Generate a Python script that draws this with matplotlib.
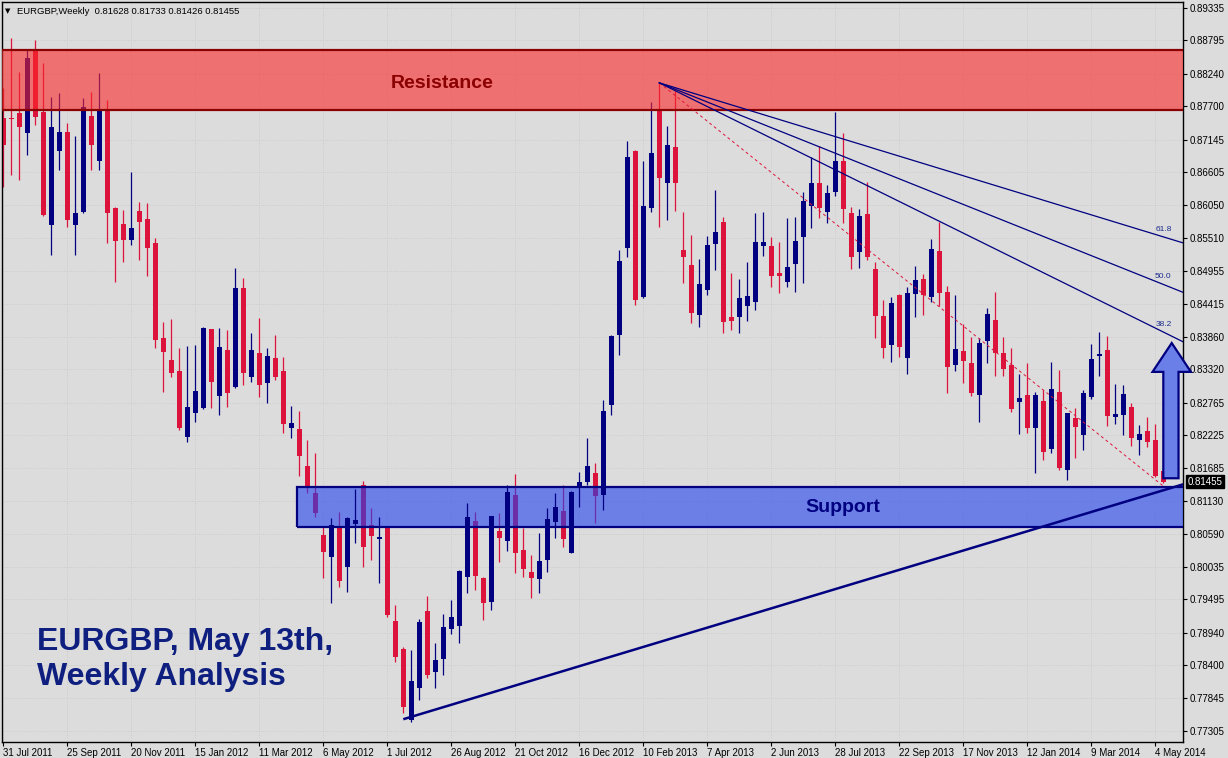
import matplotlib
matplotlib.use("Agg")
import matplotlib.pyplot as plt
from matplotlib.patches import Rectangle, Polygon
import numpy as np

# weekly EURGBP candles, 31 Jul 2011 .. 11 May 2014
opens = [0.8751, 0.8750, 0.8759, 0.8726, 0.8864, 0.8760, 0.8572, 0.8696, 0.8727, 0.8572,
         0.8594, 0.8754, 0.8679, 0.8765, 0.8601, 0.8574, 0.8548, 0.8596, 0.8582, 0.8543,
         0.8384, 0.8348, 0.8330, 0.8220, 0.8260, 0.8268, 0.8399, 0.8288, 0.8364, 0.8303,
         0.8468, 0.8320, 0.8359, 0.8310, 0.8351, 0.8330, 0.8235, 0.8233, 0.8171, 0.8127,
         0.8057, 0.8020, 0.8068, 0.8003, 0.8075, 0.8140, 0.8073, 0.8050, 0.8068, 0.7914,
         0.7867, 0.7749, 0.7802, 0.7930, 0.7829, 0.7850, 0.7900, 0.7905, 0.7987, 0.8080,
         0.7985, 0.7945, 0.8063, 0.8047, 0.8123, 0.8032, 0.7995, 0.7983, 0.8015, 0.8078,
         0.8097, 0.8027, 0.8136, 0.8145, 0.8160, 0.8123, 0.8273, 0.8389, 0.8534, 0.8696,
         0.8453, 0.8601, 0.8764, 0.8642, 0.8702, 0.8531, 0.8506, 0.8423, 0.8464, 0.8541,
         0.8577, 0.8419, 0.8419, 0.8438, 0.8444, 0.8538, 0.8538, 0.8493, 0.8478, 0.8508,
         0.8552, 0.8604, 0.8642, 0.8594, 0.8627, 0.8679, 0.8592, 0.8528, 0.8591, 0.8499,
         0.8421, 0.8373, 0.8456, 0.8351, 0.8458, 0.8483, 0.8453, 0.8529, 0.8461, 0.8339,
         0.8363, 0.8343, 0.8290, 0.8379, 0.8414, 0.8359, 0.8339, 0.8278, 0.8290, 0.8235,
         0.8280, 0.8200, 0.8295, 0.8165, 0.8251, 0.8223, 0.8286, 0.8354, 0.8364, 0.8253,
         0.8256, 0.8270, 0.8215, 0.8230, 0.8215, 0.81628]
highs = [0.8800, 0.8884, 0.8827, 0.8864, 0.8880, 0.8842, 0.8785, 0.8792, 0.8742, 0.8721,
         0.8784, 0.8794, 0.8825, 0.8780, 0.8602, 0.8597, 0.8661, 0.8611, 0.8609, 0.8551,
         0.8411, 0.8416, 0.8368, 0.8371, 0.8373, 0.8403, 0.8400, 0.8401, 0.8398, 0.8501,
         0.8484, 0.8393, 0.8418, 0.8368, 0.8389, 0.8353, 0.8271, 0.8263, 0.8215, 0.8193,
         0.8070, 0.8085, 0.8095, 0.8086, 0.8133, 0.8146, 0.8102, 0.8087, 0.8069, 0.7940,
         0.7870, 0.7865, 0.7917, 0.7955, 0.7877, 0.7925, 0.7948, 0.7998, 0.8110, 0.8095,
         0.7987, 0.8089, 0.8093, 0.8140, 0.8158, 0.8068, 0.8023, 0.8060, 0.8102, 0.8127,
         0.8140, 0.8129, 0.8161, 0.8218, 0.8176, 0.8281, 0.8389, 0.8531, 0.8712, 0.8697,
         0.8679, 0.8777, 0.8809, 0.8737, 0.8800, 0.8594, 0.8556, 0.8516, 0.8554, 0.8631,
         0.8586, 0.8493, 0.8483, 0.8511, 0.8592, 0.8594, 0.8552, 0.8544, 0.8584, 0.8586,
         0.8627, 0.8686, 0.8704, 0.8639, 0.8760, 0.8726, 0.8602, 0.8599, 0.8644, 0.8511,
         0.8448, 0.8453, 0.8457, 0.8469, 0.8504, 0.8491, 0.8549, 0.8577, 0.8471, 0.8456,
         0.8408, 0.8386, 0.8384, 0.8434, 0.8461, 0.8386, 0.8368, 0.8325, 0.8343, 0.8295,
         0.8298, 0.8344, 0.8331, 0.8260, 0.8268, 0.8298, 0.8374, 0.8394, 0.8388, 0.8308,
         0.8306, 0.8276, 0.8240, 0.8253, 0.8241, 0.81733]
lows = [0.8636, 0.8656, 0.8647, 0.8689, 0.8739, 0.8588, 0.8523, 0.8664, 0.8569, 0.8523,
        0.8593, 0.8664, 0.8664, 0.8543, 0.8478, 0.8511, 0.8539, 0.8514, 0.8488, 0.8368,
        0.8295, 0.8320, 0.8231, 0.8211, 0.8245, 0.8267, 0.8268, 0.8256, 0.8270, 0.8302,
        0.8306, 0.8311, 0.8286, 0.8276, 0.8315, 0.8226, 0.8218, 0.8155, 0.8127, 0.8087,
        0.7985, 0.7943, 0.7970, 0.7962, 0.8043, 0.8003, 0.8015, 0.7977, 0.7920, 0.7845,
        0.7760, 0.7745, 0.7782, 0.7819, 0.7802, 0.7824, 0.7892, 0.7877, 0.7960, 0.7965,
        0.7915, 0.7932, 0.8012, 0.8030, 0.7993, 0.7987, 0.7952, 0.7960, 0.7995, 0.8052,
        0.8037, 0.8026, 0.8103, 0.8140, 0.8077, 0.8098, 0.8256, 0.8356, 0.8519, 0.8439,
        0.8451, 0.8594, 0.8569, 0.8581, 0.8596, 0.8476, 0.8409, 0.8403, 0.8456, 0.8498,
        0.8393, 0.8398, 0.8393, 0.8413, 0.8431, 0.8521, 0.8469, 0.8459, 0.8469, 0.8461,
        0.8476, 0.8567, 0.8584, 0.8576, 0.8621, 0.8576, 0.8499, 0.8501, 0.8514, 0.8384,
        0.8351, 0.8344, 0.8353, 0.8325, 0.8419, 0.8423, 0.8444, 0.8438, 0.8293, 0.8330,
        0.8310, 0.8288, 0.8245, 0.8343, 0.8321, 0.8321, 0.8261, 0.8225, 0.8226, 0.8160,
        0.8181, 0.8193, 0.8165, 0.8148, 0.8185, 0.8198, 0.8283, 0.8321, 0.8238, 0.8241,
        0.8223, 0.8205, 0.8190, 0.8203, 0.8153, 0.81426]
closes = [0.8706, 0.8748, 0.8736, 0.8850, 0.8752, 0.8589, 0.8736, 0.8727, 0.8581, 0.8592,
          0.8769, 0.8706, 0.8765, 0.8592, 0.8546, 0.8548, 0.8567, 0.8577, 0.8534, 0.8381,
          0.8361, 0.8326, 0.8235, 0.8270, 0.8296, 0.8401, 0.8311, 0.8369, 0.8293, 0.8468,
          0.8326, 0.8364, 0.8306, 0.8354, 0.8320, 0.8241, 0.8243, 0.8188, 0.8136, 0.8093,
          0.8028, 0.8073, 0.7980, 0.8085, 0.8082, 0.8037, 0.8055, 0.8053, 0.7924, 0.7854,
          0.7770, 0.7814, 0.7912, 0.7824, 0.7849, 0.7904, 0.7920, 0.7997, 0.8087, 0.7988,
          0.7943, 0.8088, 0.8052, 0.8128, 0.8027, 0.8000, 0.7985, 0.8013, 0.8083, 0.8103,
          0.8050, 0.8128, 0.8145, 0.8171, 0.8122, 0.8263, 0.8388, 0.8513, 0.8686, 0.8448,
          0.8604, 0.8692, 0.8651, 0.8706, 0.8642, 0.8519, 0.8426, 0.8474, 0.8539, 0.8561,
          0.8411, 0.8413, 0.8451, 0.8454, 0.8544, 0.8544, 0.8488, 0.8488, 0.8503, 0.8546,
          0.8612, 0.8642, 0.8601, 0.8626, 0.8679, 0.8599, 0.8519, 0.8587, 0.8519, 0.8421,
          0.8368, 0.8443, 0.8369, 0.8459, 0.8481, 0.8456, 0.8533, 0.8459, 0.8336, 0.8366,
          0.8346, 0.8293, 0.8376, 0.8424, 0.8359, 0.8333, 0.8266, 0.8285, 0.8235, 0.8290,
          0.8195, 0.8300, 0.8168, 0.8260, 0.8236, 0.8293, 0.8349, 0.8358, 0.8255, 0.8258,
          0.8291, 0.8218, 0.8225, 0.8211, 0.8155, 0.81455]

date_labels = ["31 Jul 2011", "25 Sep 2011", "20 Nov 2011", "15 Jan 2012", "11 Mar 2012",
               "6 May 2012", "1 Jul 2012", "26 Aug 2012", "21 Oct 2012", "16 Dec 2012",
               "10 Feb 2013", "7 Apr 2013", "2 Jun 2013", "28 Jul 2013", "22 Sep 2013",
               "17 Nov 2013", "12 Jan 2014", "9 Mar 2014", "4 May 2014"]
price_ticks = [0.89335, 0.88795, 0.88240, 0.87700, 0.87145, 0.86605, 0.86050, 0.85510,
               0.84955, 0.84415, 0.83860, 0.83320, 0.82765, 0.82225, 0.81685, 0.81130,
               0.80590, 0.80035, 0.79495, 0.78940, 0.78400, 0.77845, 0.77305]

# drawn objects: zones, trend line, fib fan
resistance_zone = (0.87638, 0.88636)
support_zone = (0.80699, 0.81364)
support_start = 36.7
trend_start = (50, 0.7750)
trend_end = (147.5, 0.8141)
fan_high = (82, 0.8809)
fan_low = (145, 0.8138)
fan_levels = [0.382, 0.5, 0.618]

RED = "#dc143c"
NAVY = "#000080"
BG = "#dcdcdc"

plt.rcParams['font.family'] = ['Liberation Sans', 'DejaVu Sans']

fig = plt.figure(figsize=(12.28, 7.58), dpi=100)
fig.set_facecolor(BG)
ax = fig.add_axes([2 / 1228, 16 / 758, 1181 / 1228, 740 / 758])
ax.set_facecolor(BG)

n = len(opens)
x = np.arange(n)
o = np.array(opens)
h = np.array(highs)
l = np.array(lows)
c = np.array(closes)
up = c >= o

body_lo = np.minimum(o, c)
body_h = np.maximum(np.abs(c - o), 0.00012)

# red candles sit under the support zone, blue ones on top (MT4 colour mixing look)
ax.vlines(x[~up], l[~up], h[~up], color=RED, lw=0.9, zorder=2)
ax.bar(x[~up], body_h[~up], bottom=body_lo[~up], width=0.66, color=RED, zorder=2)

ax.add_patch(Rectangle((support_start, support_zone[0]), 200, support_zone[1] - support_zone[0],
                       facecolor="#2041f0", alpha=0.6, lw=0, zorder=3))

ax.vlines(x[up], l[up], h[up], color=NAVY, lw=0.9, zorder=4)
ax.bar(x[up], body_h[up], bottom=body_lo[up], width=0.66, color=NAVY, zorder=4)

ax.add_patch(Rectangle((-5, resistance_zone[0]), 200, resistance_zone[1] - resistance_zone[0],
                       facecolor="#fd2828", alpha=0.6, lw=0, zorder=5))

# zone borders
ax.add_patch(Rectangle((-5, resistance_zone[0]), 200, resistance_zone[1] - resistance_zone[0],
                       fill=False, edgecolor="#8b0000", lw=1.6, zorder=6))
ax.add_patch(Rectangle((support_start, support_zone[0]), 200, support_zone[1] - support_zone[0],
                       fill=False, edgecolor=NAVY, lw=1.6, zorder=6))

ax.text(54.9, 0.88073, "Resistance", color="#8b0000", fontsize=14,
        fontweight="bold", ha="center", va="center", zorder=7)
ax.text(105, 0.81015, "Support", color=NAVY, fontsize=14,
        fontweight="bold", ha="center", va="center", zorder=7)

# rising trend line
ax.plot([trend_start[0], trend_end[0]], [trend_start[1], trend_end[1]], color=NAVY,
        lw=1.8, zorder=6, solid_capstyle="butt")

# fib fan
ax.plot([fan_high[0], fan_low[0]], [fan_high[1], fan_low[1]], color=RED, lw=0.7,
        dashes=(3, 3), zorder=6)
xr = 147.6
for f in fan_levels:
    pe = fan_low[1] + f * (fan_high[1] - fan_low[1])
    slope = (pe - fan_high[1]) / (fan_low[0] - fan_high[0])
    ax.plot([fan_high[0], xr], [fan_high[1], fan_high[1] + slope * (xr - fan_high[0])],
            color=NAVY, lw=0.9, zorder=6)
    ax.annotate("%.1f" % (f * 100), xy=(fan_low[0], pe), xytext=(0, 3),
                textcoords="offset points", ha="center", va="bottom",
                fontsize=6, color="#1c2c8c", zorder=7)

# big up arrow on the right
ax_c = 145.95
arrow = [(ax_c - 0.95, 0.8151), (ax_c - 0.95, 0.8328), (ax_c - 2.3, 0.8328),
         (ax_c + 0.1, 0.8376), (ax_c + 2.5, 0.8328), (ax_c + 0.95, 0.8328),
         (ax_c + 0.95, 0.8151)]
ax.add_patch(Polygon(arrow, closed=True, facecolor="#6b7fe8", edgecolor=NAVY, lw=1.6,
                     zorder=8, clip_on=False))

# title
ax.text(4.2, 0.78652, "EURGBP, May 13th,", color="#0f1f80", fontsize=23,
        fontweight="bold", ha="left", va="baseline", zorder=7)
ax.text(4.2, 0.78070, "Weekly Analysis", color="#0f1f80", fontsize=23,
        fontweight="bold", ha="left", va="baseline", zorder=7)

# axes
ax.set_xlim(-0.16, 147.46)
ax.set_ylim(0.77121, 0.89435)
ax.yaxis.tick_right()
ax.set_yticks(price_ticks)
ax.set_yticklabels(["%.5f" % v for v in price_ticks])
ax.set_xticks(np.arange(0, 8 * len(date_labels), 8))
ax.set_xticklabels(date_labels)
plt.setp(ax.get_xticklabels(), ha="left")
ax.tick_params(axis="y", direction="out", length=3, width=0.8, labelsize=7, pad=2)
ax.tick_params(axis="x", direction="out", length=3, width=0.8, labelsize=7, pad=1.5)
ax.grid(True, ls=":", color="#c8c8c8", lw=0.6)
ax.set_axisbelow(True)
for s in ax.spines.values():
    s.set_color("black")
    s.set_linewidth(1)

# current price tag
ax.annotate("0.81455", xy=(1.0, 0.81455), xycoords=("axes fraction", "data"),
            xytext=(3, 0), textcoords="offset points", ha="left", va="center",
            fontsize=7, color="white",
            bbox=dict(boxstyle="square,pad=0.15", fc="black", ec="black"), zorder=9)

# header
fig.text(5 / 1228, 1 - 11 / 758, "\u25bc", fontsize=5, family="DejaVu Sans", va="center")
fig.text(17 / 1228, 1 - 11 / 758, "EURGBP,Weekly  0.81628 0.81733 0.81426 0.81455",
         fontsize=6.8, va="center")

plt.savefig("out.png", dpi=100, facecolor=fig.get_facecolor())
